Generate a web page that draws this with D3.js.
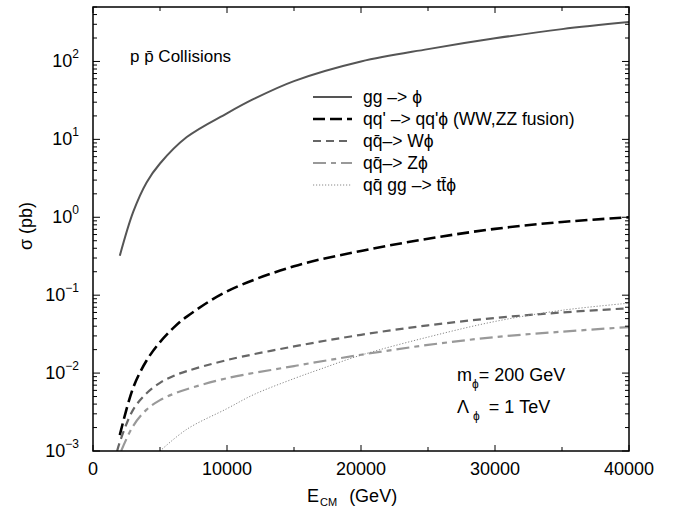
<!DOCTYPE html>
<html>
<head>
<meta charset="utf-8">
<script src="https://cdn.jsdelivr.net/npm/d3@7"></script>
<style>
body { margin: 0; background: #fff; }
svg text { font-family: "Liberation Sans", Arial, Helvetica, sans-serif; fill: #000; }
</style>
</head>
<body>
<div id="chart"></div>
<script>
// cross sections (pb), E_CM in GeV
var eGluon = [2000, 3000, 4000, 5000, 7000, 10000, 12000, 15000, 20000, 25000, 30000, 35000, 40000];
var sigmaGluon = [0.32, 1.17, 2.8, 4.9, 10.7, 21.6, 33, 56, 100, 144, 198, 260, 320];

var eFusion = [2000, 3000, 4000, 5000, 6000, 7000, 10000, 15000, 20000, 25000, 30000, 35000, 40000];
var sigmaFusion = [0.0016, 0.0065, 0.0145, 0.025, 0.038, 0.053, 0.112, 0.235, 0.37, 0.53, 0.71, 0.87, 1.0];

var eW = [1800, 2000, 3000, 4000, 5000, 6000, 7000, 10000, 15000, 20000, 25000, 30000, 35000, 40000];
var sigmaW = [0.001, 0.0013, 0.0034, 0.0055, 0.0075, 0.0092, 0.0106, 0.0147, 0.022, 0.031, 0.041, 0.051, 0.06, 0.068];

var eZ = [2100, 3000, 4000, 5000, 6000, 7000, 10000, 15000, 20000, 25000, 30000, 35000, 40000];
var sigmaZ = [0.001, 0.0021, 0.0034, 0.0045, 0.0054, 0.0062, 0.0086, 0.0123, 0.0172, 0.023, 0.029, 0.034, 0.039];

var eTop = [5000, 7000, 10000, 12000, 15000, 17000, 20000, 25000, 30000, 35000, 40000];
var sigmaTop = [0.001, 0.0019, 0.0035, 0.0053, 0.0085, 0.0113, 0.017, 0.029, 0.046, 0.064, 0.079];

var legendLabels = [
    "gg \u2013> \u03d5",
    "qq' \u2013> qq'\u03d5 (WW,ZZ fusion)",
    "qq\u0304\u2013> W\u03d5",
    "qq\u0304\u2013> Z\u03d5",
    "qq\u0304 gg \u2013> tt\u0304\u03d5"
];

var xTickValues = [0, 10000, 20000, 30000, 40000];
var yExponents = [-3, -2, -1, 0, 1, 2];

var WIDTH = 683,
    HEIGHT = 510,
    margin = {top: 7, right: 54, bottom: 59, left: 93};

var svg = d3.select("#chart")
    .append("svg")
    .attr("width", WIDTH)
    .attr("height", HEIGHT);

var x = d3.scaleLinear()
    .domain([0, 40000])
    .range([margin.left, WIDTH - margin.right]);

var y = d3.scaleLog()
    .domain([1e-3, 500])
    .range([HEIGHT - margin.bottom, margin.top]);

var series = [
    {e: eGluon, s: sigmaGluon, color: "#555", width: 2, dash: null},
    {e: eFusion, s: sigmaFusion, color: "#000", width: 2.6, dash: "12,5"},
    {e: eW, s: sigmaW, color: "#666", width: 2.2, dash: "8,5"},
    {e: eZ, s: sigmaZ, color: "#999", width: 2.2, dash: "13,5,5,5"},
    {e: eTop, s: sigmaTop, color: "#888", width: 1, dash: "1.2,1.8"}
];

svg.append("clipPath")
    .attr("id", "plot-clip")
    .append("rect")
    .attr("x", x.range()[0])
    .attr("y", y.range()[1])
    .attr("width", x.range()[1] - x.range()[0])
    .attr("height", y.range()[0] - y.range()[1]);

var line = d3.line()
    .x(function (d) { return x(d[0]); })
    .y(function (d) { return y(d[1]); })
    .curve(d3.curveCatmullRom.alpha(0.5));

svg.append("g")
    .attr("clip-path", "url(#plot-clip)")
    .selectAll("path")
    .data(series)
    .enter()
    .append("path")
    .attr("d", function (d) {
        return line(d.e.map(function (v, i) { return [v, d.s[i]]; }));
    })
    .attr("fill", "none")
    .attr("stroke", function (d) { return d.color; })
    .attr("stroke-width", function (d) { return d.width; })
    .attr("stroke-dasharray", function (d) { return d.dash; });

// axes: ticks inside on all four sides
var x0 = x.range()[0], x1 = x.range()[1], yb = y.range()[0], yt = y.range()[1];

var xTicks = d3.range(0, 40001, 5000);
var axes = svg.append("g").attr("stroke", "#000");

xTicks.forEach(function (v) {
    var len = v % 10000 === 0 ? 6 : 4;
    axes.append("line").attr("x1", x(v)).attr("x2", x(v)).attr("y1", yb).attr("y2", yb - len);
    axes.append("line").attr("x1", x(v)).attr("x2", x(v)).attr("y1", yt).attr("y2", yt + len);
});

y.ticks().forEach(function (v) {
    var major = Math.abs(Math.log10(v) - Math.round(Math.log10(v))) < 1e-9;
    var len = major ? 7 : 4;
    axes.append("line").attr("x1", x0).attr("x2", x0 + len).attr("y1", y(v)).attr("y2", y(v));
    axes.append("line").attr("x1", x1).attr("x2", x1 - len).attr("y1", y(v)).attr("y2", y(v));
});

svg.append("rect")
    .attr("x", x0)
    .attr("y", yt)
    .attr("width", x1 - x0)
    .attr("height", yb - yt)
    .attr("fill", "none")
    .attr("stroke", "#000")
    .attr("stroke-width", 1.5);

// tick labels
svg.append("g")
    .selectAll("text")
    .data(xTickValues)
    .enter()
    .append("text")
    .attr("x", function (d) { return x(d); })
    .attr("y", yb + 24)
    .attr("text-anchor", "middle")
    .style("font-size", "18px")
    .text(function (d) { return d; });

var yLabels = svg.append("g")
    .selectAll("text")
    .data(yExponents)
    .enter()
    .append("text")
    .attr("x", x0 - 14)
    .attr("y", function (d) { return y(Math.pow(10, d)) + 6; })
    .attr("text-anchor", "end")
    .style("font-size", "18px");
yLabels.append("tspan").text("10");
yLabels.append("tspan")
    .attr("dy", -9)
    .style("font-size", "12px")
    .text(function (d) { return d < 0 ? "\u2212" + (-d) : d; });

// axis titles
var xTitle = svg.append("text")
    .attr("x", 307)
    .attr("y", 502)
    .style("font-size", "18px");
xTitle.append("tspan").text("E");
xTitle.append("tspan").attr("dx", 1).attr("dy", 4).style("font-size", "11px").text("CM");
xTitle.append("tspan").attr("dy", -4).attr("dx", 12).text("(GeV)");

svg.append("text")
    .attr("transform", "translate(32," + 226 + ") rotate(-90)")
    .attr("text-anchor", "middle")
    .style("font-size", "18px")
    .text("\u03c3  (pb)");

// annotations
svg.append("text")
    .attr("x", 130)
    .attr("y", 62)
    .style("font-size", "17px")
    .text("p p\u0304 Collisions");

var mText = svg.append("text")
    .attr("x", 457)
    .attr("y", 381)
    .style("font-size", "18px");
mText.append("tspan").text("m");
mText.append("tspan").attr("dy", 7).style("font-size", "12px").text("\u03d5");
mText.append("tspan").attr("dy", -7).text("= 200 GeV");

var lText = svg.append("text")
    .attr("x", 457)
    .attr("y", 413)
    .style("font-size", "18px");
lText.append("tspan").text("\u039b");
lText.append("tspan").attr("dx", 4).attr("dy", 7).style("font-size", "12px").text("\u03d5");
lText.append("tspan").attr("dx", 9).attr("dy", -7).text("= 1 TeV");

// legend
var legendY = [97, 119, 141, 163, 185];
var legend = svg.append("g")
    .selectAll("g")
    .data(series)
    .enter()
    .append("g")
    .attr("transform", function (d, i) { return "translate(0," + legendY[i] + ")"; });

legend.append("line")
    .attr("x1", 313)
    .attr("x2", 352)
    .attr("stroke", function (d) { return d.color; })
    .attr("stroke-width", function (d) { return d.width; })
    .attr("stroke-dasharray", function (d) { return d.dash; });

legend.append("text")
    .attr("x", 363)
    .attr("y", 6)
    .style("font-size", "17.5px")
    .text(function (d, i) { return legendLabels[i]; });
</script>
</body>
</html>
